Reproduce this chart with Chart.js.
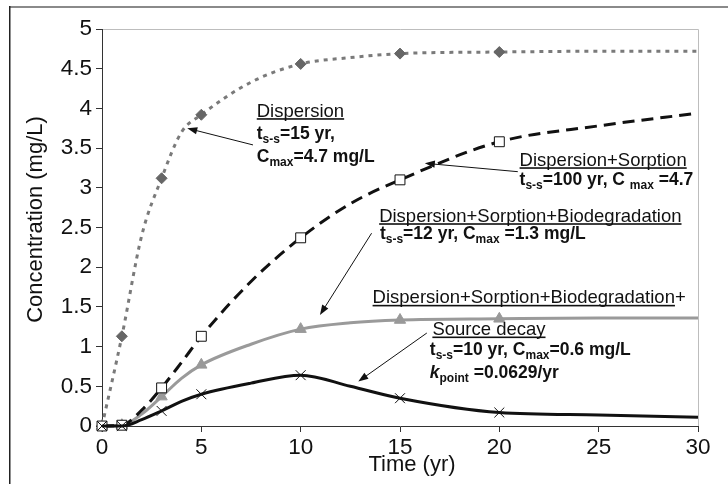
<!DOCTYPE html>
<html>
<head>
<meta charset="utf-8">
<script src="https://cdn.jsdelivr.net/npm/chart.js@4.4.0/dist/chart.umd.min.js"></script>
<style>
  html, body { margin: 0; padding: 0; background: #fff; }
  #wrap { width: 728px; height: 484px; }
</style>
</head>
<body>
<div id="wrap"><canvas id="concChart" width="728" height="484"></canvas></div>
<script>
// values (mg/L), time in years
const timeYr = [0, 1, 2, 3, 4, 5, 7.5, 10, 12.5, 15, 20, 25, 30];
const markedYears = [0, 1, 3, 5, 10, 15, 20];
const dispersion = [0, 1.13, 2.4, 3.12, 3.7, 3.92, 4.33, 4.56, 4.64, 4.69, 4.71, 4.72, 4.72];
const dispSorption = [0, 0.01, 0.2, 0.48, 0.8, 1.13, 1.82, 2.37, 2.8, 3.1, 3.58, 3.78, 3.94];
const dispSorpBio = [0, 0.01, 0.15, 0.37, 0.6, 0.77, 1.03, 1.22, 1.3, 1.335, 1.35, 1.36, 1.36];
const sourceDecay = [0, 0, 0.08, 0.19, 0.31, 0.4, 0.54, 0.64, 0.5, 0.35, 0.17, 0.14, 0.11];
const xTicks = [0, 5, 10, 15, 20, 25, 30];
const yTicks = [0, 0.5, 1, 1.5, 2, 2.5, 3, 3.5, 4, 4.5, 5];

const FONT = '"Liberation Sans", Arial, sans-serif';

function series(label, values, style) {
    return Object.assign({
        label: label,
        data: timeYr.map((t, i) => ({ x: t, y: values[i] })),
        cubicInterpolationMode: 'monotone',
        clip: false,
        borderWidth: 3,
        pointBorderWidth: 1,
        pointRadius: timeYr.map(t => markedYears.includes(t) ? style.radius : 0)
    }, style);
}

// text annotations: position of each line in data units, parts of rich text
const notes = [
    { x: 7.79, y: 3.896, parts: [{ t: 'Dispersion', u: true }] },
    { x: 7.79, y: 3.62, parts: [{ t: 't', b: true }, { t: 's-s', b: true, s: true }, { t: '=15 yr,', b: true }] },
    { x: 7.79, y: 3.331, parts: [{ t: 'C', b: true }, { t: 'max', b: true, s: true }, { t: '=4.7 mg/L', b: true }] },

    { x: 21.02, y: 3.278, parts: [{ t: 'Dispersion+Sorption', u: true }] },
    { x: 21.02, y: 3.035, parts: [{ t: 't', b: true }, { t: 's-s', b: true, s: true }, { t: '=100 yr, C ', b: true }, { t: 'max', b: true, s: true }, { t: ' =4.7', b: true }] },

    { x: 13.95, y: 2.573, parts: [{ t: 'Dispersion+Sorption+Biodegradation', u: true }] },
    { x: 13.99, y: 2.349, parts: [{ t: 't', b: true }, { t: 's-s', b: true, s: true }, { t: '=12 yr, C', b: true }, { t: 'max', b: true, s: true }, { t: ' =1.3 mg/L', b: true }] },

    { x: 13.62, y: 1.545, parts: [{ t: 'Dispersion+Sorption+Biodegradation', u: true }, { t: '+' }] },
    { x: 16.63, y: 1.146, parts: [{ t: 'Source decay', u: true }] },
    { x: 16.5, y: 0.894, parts: [{ t: 't', b: true }, { t: 's-s', b: true, s: true }, { t: '=10 yr, C', b: true }, { t: 'max', b: true, s: true }, { t: '=0.6 mg/L', b: true }] },
    { x: 16.5, y: 0.60, parts: [{ t: 'k', b: true, i: true }, { t: 'point', b: true, s: true }, { t: ' =0.0629/yr', b: true }] }
];

// arrows: from label towards curve, in data units
const arrows = [
    { from: [7.60, 3.54], to: [4.29, 3.75] },
    { from: [20.93, 3.203], to: [16.25, 3.309] },
    { from: [13.57, 2.428], to: [10.97, 1.398] },
    { from: [16.35, 1.171], to: [12.9, 0.56] }
];

function drawRich(ctx, x, y, parts) {
    let cx = x;
    for (const p of parts) {
        const size = p.s ? 12 : (p.b ? 17.5 : 18.5);
        ctx.font = (p.i ? 'italic ' : '') + (p.b ? 'bold ' : '') + size + 'px ' + FONT;
        const dy = p.s ? 4 : 0;
        ctx.fillText(p.t, cx, y + dy);
        const w = ctx.measureText(p.t).width;
        if (p.u) {
            ctx.fillRect(cx, y + 1.5, w, 1.6);
        }
        cx += w;
    }
}

const figureDecor = {
    id: 'figureDecor',
    beforeDraw(chart) {
        const ctx = chart.ctx;
        const a = chart.chartArea;
        ctx.save();
        // outer frame of the figure
        ctx.fillStyle = '#8a8a8a';
        ctx.fillRect(9, 6, 719, 2);
        ctx.fillStyle = '#222';
        ctx.fillRect(9, 6, 1.5, 478);
        // light plot-area border on top and right
        ctx.strokeStyle = '#bdbdbd';
        ctx.lineWidth = 1;
        ctx.beginPath();
        ctx.moveTo(a.left, a.top + 0.5);
        ctx.lineTo(a.right + 0.5, a.top + 0.5);
        ctx.lineTo(a.right + 0.5, a.bottom);
        ctx.stroke();
        ctx.restore();
    },
    afterDraw(chart) {
        const ctx = chart.ctx;
        const sx = chart.scales.x, sy = chart.scales.y;
        const a = chart.chartArea;
        ctx.save();
        ctx.fillStyle = '#111';
        ctx.textBaseline = 'alphabetic';
        ctx.textAlign = 'left';

        // axis titles
        ctx.font = '22px ' + FONT;
        ctx.textAlign = 'center';
        ctx.fillText('Time (yr)', (a.left + a.right) / 2 + 12, 471);
        ctx.save();
        ctx.translate(42, (a.top + a.bottom) / 2 - 8);
        ctx.rotate(-Math.PI / 2);
        ctx.fillText('Concentration (mg/L)', 0, 0);
        ctx.restore();
        ctx.textAlign = 'left';

        for (const n of notes) {
            drawRich(ctx, sx.getPixelForValue(n.x), sy.getPixelForValue(n.y), n.parts);
        }

        ctx.strokeStyle = '#111';
        ctx.lineWidth = 1;
        for (const ar of arrows) {
            const x1 = sx.getPixelForValue(ar.from[0]), y1 = sy.getPixelForValue(ar.from[1]);
            const x2 = sx.getPixelForValue(ar.to[0]), y2 = sy.getPixelForValue(ar.to[1]);
            const ang = Math.atan2(y2 - y1, x2 - x1);
            const len = 10, hw = 3.6;
            ctx.beginPath();
            ctx.moveTo(x1, y1);
            ctx.lineTo(x2 - Math.cos(ang) * len * 0.8, y2 - Math.sin(ang) * len * 0.8);
            ctx.stroke();
            ctx.beginPath();
            ctx.moveTo(x2, y2);
            ctx.lineTo(x2 - Math.cos(ang) * len - Math.sin(ang) * hw, y2 - Math.sin(ang) * len + Math.cos(ang) * hw);
            ctx.lineTo(x2 - Math.cos(ang) * len + Math.sin(ang) * hw, y2 - Math.sin(ang) * len - Math.cos(ang) * hw);
            ctx.closePath();
            ctx.fill();
        }
        ctx.restore();
    }
};

new Chart(document.getElementById('concChart').getContext('2d'), {
    type: 'line',
    data: {
        datasets: [
            series('Dispersion', dispersion, {
                borderColor: '#7a7a7a', borderDash: [4, 5],
                pointStyle: 'rectRot', radius: 5.5,
                pointBackgroundColor: '#666', pointBorderColor: '#666', order: 3
            }),
            series('Dispersion+Sorption', dispSorption, {
                borderColor: '#111', borderDash: [12, 7],
                pointStyle: 'rect', radius: 7,
                pointBackgroundColor: '#fff', pointBorderColor: '#111', order: 1
            }),
            series('Dispersion+Sorption+Biodegradation', dispSorpBio, {
                borderColor: '#9a9a9a',
                pointStyle: 'triangle', radius: 6.5,
                pointBackgroundColor: '#999', pointBorderColor: '#999', order: 2
            }),
            series('Dispersion+Sorption+Biodegradation+Source decay', sourceDecay, {
                borderColor: '#111',
                pointStyle: 'crossRot', radius: 7,
                pointBackgroundColor: '#111', pointBorderColor: '#111', order: 0
            })
        ]
    },
    options: {
        responsive: false,
        animation: false,
        layout: { padding: { top: 29, right: 30, left: 0, bottom: 0 } },
        plugins: {
            legend: { display: false },
            tooltip: { enabled: false }
        },
        scales: {
            x: {
                type: 'linear',
                min: 0,
                max: 30,
                afterBuildTicks: scale => { scale.ticks = xTicks.map(v => ({ value: v })); },
                afterFit: scale => { scale.height = 58; },
                grid: { drawOnChartArea: false, drawTicks: true, tickLength: 6, color: '#333' },
                border: { color: '#333', width: 1 },
                ticks: {
                    color: '#111',
                    padding: 2,
                    maxRotation: 0,
                    font: { family: FONT, size: 22.5 },
                    callback: v => String(v)
                }
            },
            y: {
                min: 0,
                max: 5,
                afterBuildTicks: scale => { scale.ticks = yTicks.map(v => ({ value: v })); },
                afterFit: scale => { scale.width = 102; },
                grid: { drawOnChartArea: false, drawTicks: true, tickLength: 6, color: '#333' },
                border: { color: '#333', width: 1 },
                ticks: {
                    color: '#111',
                    padding: 4,
                    font: { family: FONT, size: 22.5 },
                    callback: v => String(v)
                }
            }
        }
    },
    plugins: [figureDecor]
});
</script>
</body>
</html>
